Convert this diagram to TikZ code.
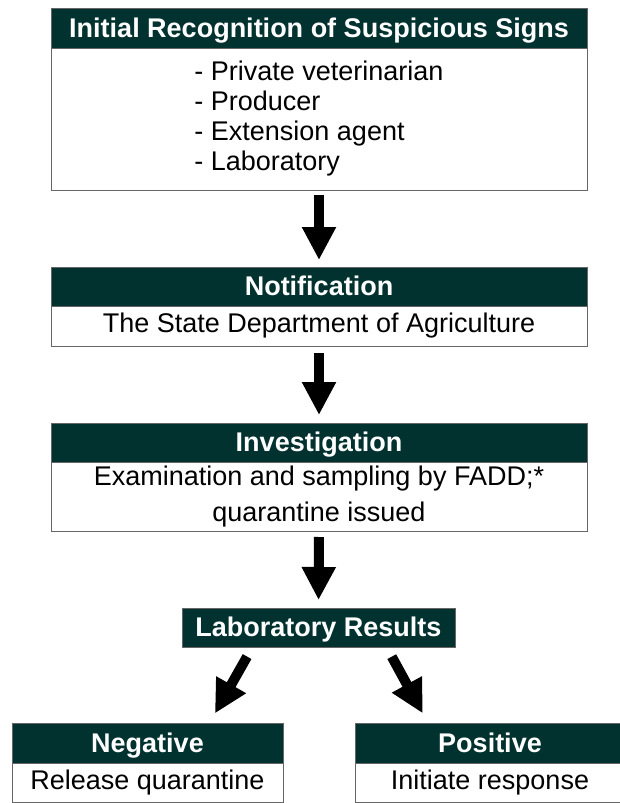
\documentclass[tikz,border=0pt]{standalone}
\usepackage{xcolor}
\usepackage{fontspec}
\setmainfont{Liberation Sans}
\usepackage{tikz}
\usetikzlibrary{arrows.meta, calc, positioning}

\definecolor{hdrteal}{RGB}{2,50,48}

\begin{document}
\begin{tikzpicture}[x=1pt,y=-1pt,
    hdr/.style={draw=black!60, line width=0.9pt, fill=hdrteal, text=white,
                font=\fontsize{27}{30}\selectfont\bfseries, text height=19.5pt, text depth=1pt,
                inner sep=0pt, outer sep=0pt},
    txtbox/.style={draw=black!60, line width=0.9pt, fill=white, align=center,
                font=\fontsize{27}{30}\selectfont, inner sep=0pt, outer sep=0pt},
    bigarrow/.style={line width=10pt, -{Triangle[length=33pt,width=32pt]}}]
  \useasboundingbox (0,0) rectangle (619,803);
  % initial recognition
  \node[hdr, minimum width=536pt, minimum height=40pt] (recog) at (319,28)
       {Initial Recognition of Suspicious Signs};
  \node[txtbox, minimum width=536pt, minimum height=142pt, below=0pt of recog] (recogtxt)
       {\raisebox{-4pt}{\begin{tabular}{@{}l@{}}- Private veterinarian\\- Producer\\- Extension agent\\- Laboratory\end{tabular}}};
  % notification
  \node[hdr, minimum width=536pt, minimum height=39pt] (notif) at (319,286.5) {Notification};
  \node[txtbox, minimum width=536pt, minimum height=40pt, below=0pt of notif] (notiftxt)
       {The State Department of Agriculture};
  % investigation
  \node[hdr, minimum width=536pt, minimum height=39pt] (invest) at (319,442.5) {Investigation};
  \node[txtbox, minimum width=536pt, minimum height=69pt, below=0pt of invest] (investtxt)
       {Examination and sampling by FADD;*\\[6pt]quarantine issued};
  % laboratory results
  \node[hdr, minimum width=273pt, minimum height=39pt] (lab) at (318.5,627.5) {Laboratory Results};
  % negative / positive
  \node[hdr, minimum width=271pt, minimum height=40pt] (neg) at (147.5,743) {Negative};
  \node[txtbox, minimum width=271pt, minimum height=39pt, below=0pt of neg] (negtxt)
       {Release quarantine};
  \node[hdr, minimum width=270pt, minimum height=40pt] (pos) at (490,743) {Positive};
  \node[txtbox, minimum width=270pt, minimum height=39pt, below=0pt of pos] (postxt)
       {Initiate response};
  % arrows
  \draw[bigarrow, shorten <=5pt, shorten >=7pt] (recogtxt.south) -- (notif.north);
  \draw[bigarrow, shorten <=7pt, shorten >=8pt] (notiftxt.south) -- (invest.north);
  \draw[bigarrow, shorten <=6pt, shorten >=8pt] (investtxt.south) -- (lab.north);
  \draw[bigarrow, shorten <=11pt, shorten >=11pt] ($(lab.south)+(-66,0)$) -- ($(neg.north)+(62,0)$);
  \draw[bigarrow, shorten <=11pt, shorten >=11pt] ($(lab.south)+(68,0)$) -- ($(pos.north)+(-62,0)$);
\end{tikzpicture}
\end{document}
